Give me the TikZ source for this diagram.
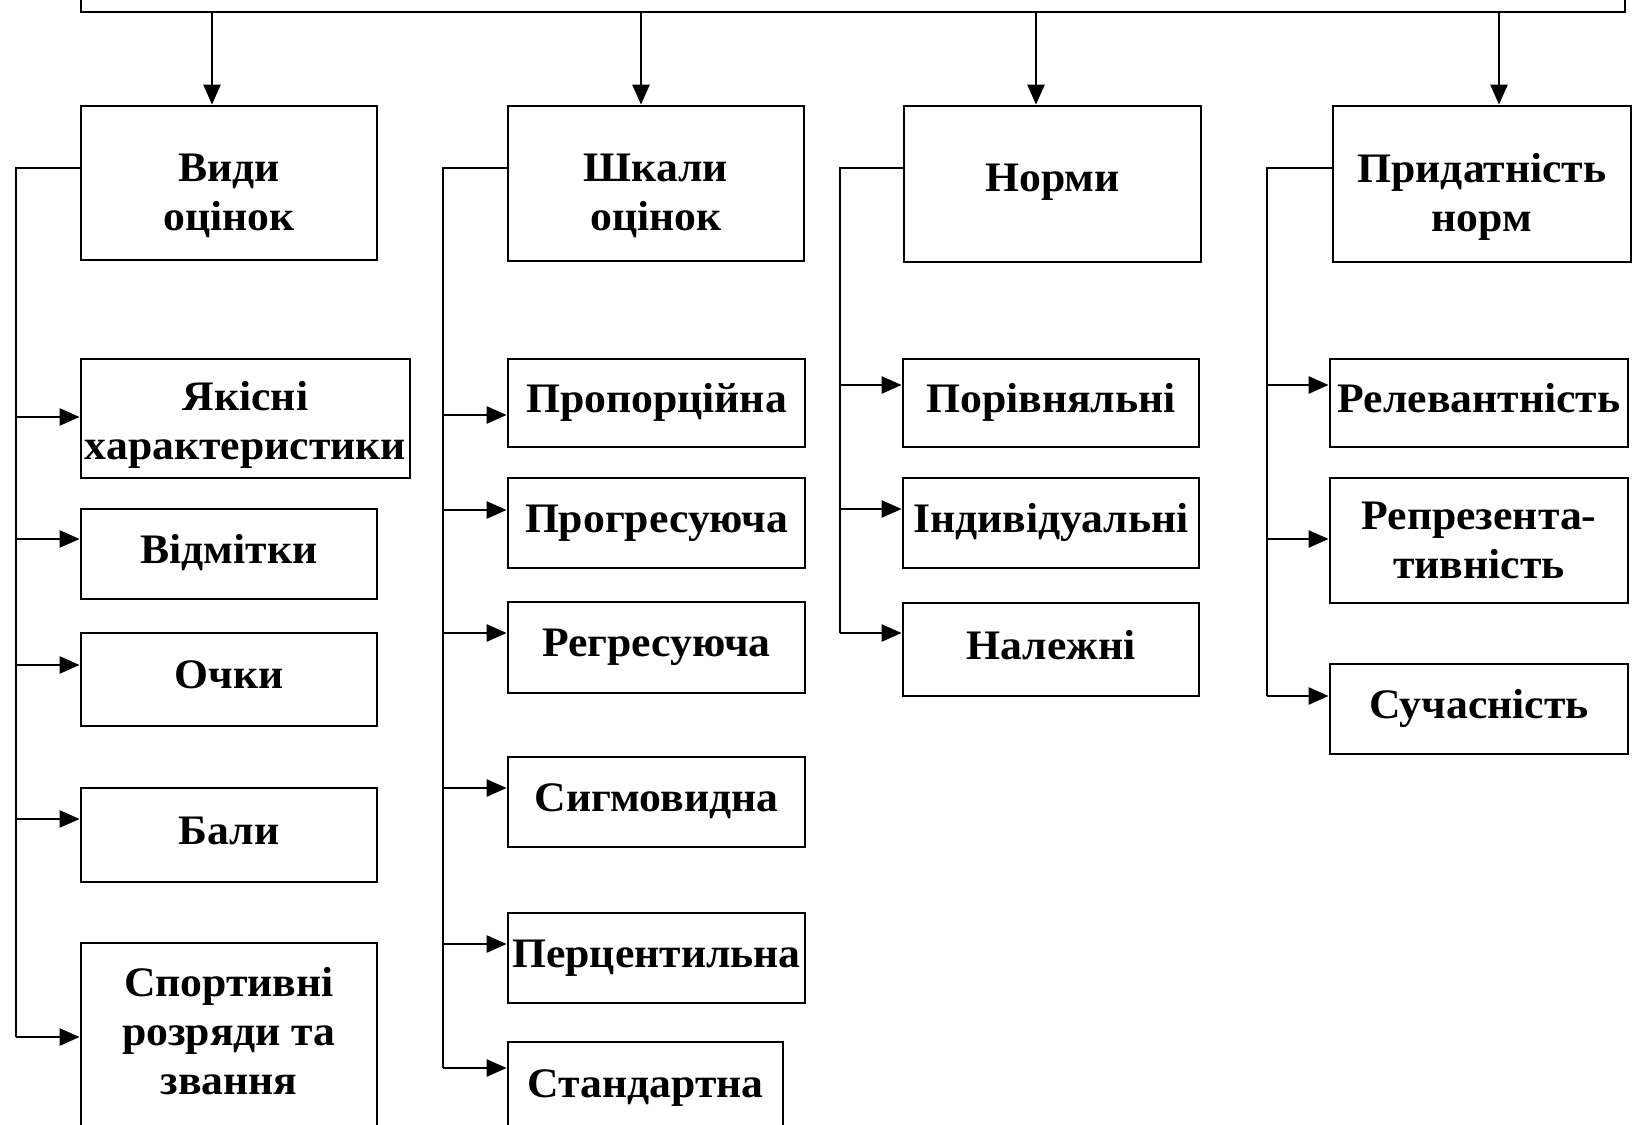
\documentclass[tikz,border=0pt]{standalone}
\usepackage{fontspec}
\setmainfont[FakeStretch=1.04]{Liberation Serif}
\usetikzlibrary{arrows.meta}
\tikzset{
  tfont/.style={font=\fontsize{21}{24.5}\selectfont\bfseries},
  box/.style={draw, line width=1.4pt, align=center, inner sep=0pt, tfont},
  bx/.style 2 args={box, minimum width=#1pt, minimum height=#2pt},
  one/.style={text depth=4.6pt},
  txt/.style={align=center, inner sep=0pt, tfont},
  conn/.style={line width=1.2pt},
  arr/.style={line width=1.3pt, -{Triangle[length=10pt,width=8.5pt]}},
}
\begin{document}
\begin{tikzpicture}[x=0.5pt,y=-0.5pt]
\useasboundingbox (0,0) rectangle (1637,1124);
\clip (0,0) rectangle (1637,1124);
\fill[white] (0,0) rectangle (1637,1124);

% root box (cut off at the top)
\node[draw, line width=1.4pt, minimum width=772pt, minimum height=40pt, inner sep=0pt] (root) at (853,-28) {};

% first level
\node[bx={148}{77}]   (vid) at (229,183)    {};
\node[txt] (vidt) at ([yshift=-6.25pt]vid.center) {Види\\оцінок};
\node[bx={148}{77.5}] (shk) at (656,183.5)  {};
\node[txt] (shkt) at ([yshift=-6.25pt]shk.center) {Шкали\\оцінок};
\node[bx={148.5}{78}] (nor) at (1052.5,184) {};
\node[txt, one] (nort) at ([yshift=1pt]nor.center) {Норми};
\node[bx={149}{78}]   (pry) at (1482,184)   {};
\node[txt] (pryt) at ([yshift=-6.25pt]pry.center) {Придатність\\норм};

% column 1
\node[bx={164.5}{59.5}] (yak)  at (245.5,418.5) {};
\node[txt] (yakt) at ([yshift=-3pt]yak.center) {Якісні\\характеристики};
\node[bx={148}{45}, one]   (vdm)  at (229,554)     {Відмітки};
\node[bx={148}{46.5}, one] (och)  at (229,679.5)   {Очки};
\node[bx={148}{47}, one]   (bal)  at (229,835)     {Бали};
\node[bx={148}{96}]        (spo)  at (229,1039)    {};
\node[txt] (spot) at ([yshift=4pt]spo.center) {Спортивні\\розряди та\\звання};

% column 2
\node[bx={148.5}{44}, one]   (pro)  at (656.5,403)   {Пропорційна};
\node[bx={148.5}{45}, one]   (prg)  at (656.5,523)   {Прогресуюча};
\node[bx={148.5}{45.5}, one] (reg)  at (656.5,647.5) {Регресуюча};
\node[bx={148.5}{45}, one]   (sig)  at (656.5,802)   {Сигмовидна};
\node[bx={148.5}{45}, one]   (per)  at (656.5,958)   {Перцентильна};
\node[bx={137.5}{46.5}, one] (sta)  at (645.5,1088.5){Стандартна};

% column 3
\node[bx={148}{44}, one]     (por)  at (1051,403)    {Порівняльні};
\node[bx={148}{45}, one]     (ind)  at (1051,523)    {Індивідуальні};
\node[bx={148}{46.5}, one]   (nal)  at (1051,649.5)  {Належні};

% column 4
\node[bx={149}{44}, one]     (rel)  at (1479,403)    {Релевантність};
\node[bx={149}{62.5}]        (rep)  at (1479,540.5)  {Репрезента-\\тивність};
\node[bx={149}{45}, one]     (suc)  at (1479,709)    {Сучасність};

% arrows from root
\coordinate (a1) at (212,0);
\coordinate (a2) at (641,0);
\coordinate (a3) at (1036,0);
\coordinate (a4) at (1499,0);
\draw[arr] (a1 |- root.south) -- (a1 |- vid.north);
\draw[arr] (a2 |- root.south) -- (a2 |- shk.north);
\draw[arr] (a3 |- root.south) -- (a3 |- nor.north);
\draw[arr] (a4 |- root.south) -- (a4 |- pry.north);

% spines
\coordinate (s1) at (16,168);
\coordinate (s2) at (443,168);
\coordinate (s3) at (840,168);
\coordinate (s4) at (1267,168);
\draw[conn] (vid.west |- s1) -- (s1) -- (s1 |- 0,1037);
\draw[conn] (shk.west |- s2) -- (s2) -- (s2 |- 0,1068);
\draw[conn] (nor.west |- s3) -- (s3) -- (s3 |- 0,633);
\draw[conn] (pry.west |- s4) -- (s4) -- (s4 |- 0,696);

% column 1 arrows
\draw[arr] (s1 |- 0,417)  -- (yak.west |- 0,417);
\draw[arr] (s1 |- 0,539)  -- (vdm.west |- 0,539);
\draw[arr] (s1 |- 0,665)  -- (och.west |- 0,665);
\draw[arr] (s1 |- 0,819)  -- (bal.west |- 0,819);
\draw[arr] (s1 |- 0,1037) -- (spo.west |- 0,1037);

% column 2 arrows
\draw[arr] (s2 |- 0,415)  -- (pro.west |- 0,415);
\draw[arr] (s2 |- 0,510)  -- (prg.west |- 0,510);
\draw[arr] (s2 |- 0,633)  -- (reg.west |- 0,633);
\draw[arr] (s2 |- 0,788)  -- (sig.west |- 0,788);
\draw[arr] (s2 |- 0,944)  -- (per.west |- 0,944);
\draw[arr] (s2 |- 0,1068) -- (sta.west |- 0,1068);

% column 3 arrows
\draw[arr] (s3 |- 0,385) -- (por.west |- 0,385);
\draw[arr] (s3 |- 0,509) -- (ind.west |- 0,509);
\draw[arr] (s3 |- 0,633) -- (nal.west |- 0,633);

% column 4 arrows
\draw[arr] (s4 |- 0,385) -- (rel.west |- 0,385);
\draw[arr] (s4 |- 0,539) -- (rep.west |- 0,539);
\draw[arr] (s4 |- 0,696) -- (suc.west |- 0,696);
\end{tikzpicture}
\end{document}
